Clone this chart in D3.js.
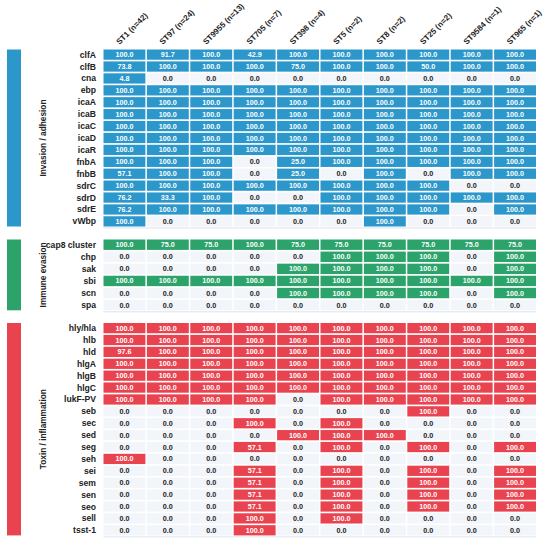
<!DOCTYPE html>
<html>
<head>
<meta charset="utf-8">
<script src="https://cdn.jsdelivr.net/npm/d3@7"></script>
<style>
  body { margin: 0; background: #fff; }
  text { font-family: "Liberation Sans", Arial, sans-serif; }
</style>
</head>
<body>
<svg id="chart" width="550" height="541"></svg>
<script>
// sequence types (columns)
var strains = ['ST1 (n=42)', 'ST97 (n=24)', 'ST9955 (n=13)', 'ST705 (n=7)', 'ST398 (n=4)',
               'ST5 (n=2)', 'ST8 (n=2)', 'ST25 (n=2)', 'ST9584 (n=1)', 'ST965 (n=1)'];

// invasion / adhesion
var invasionGenes = ['clfA', 'clfB', 'cna', 'ebp', 'icaA', 'icaB', 'icaC', 'icaD', 'icaR',
                     'fnbA', 'fnbB', 'sdrC', 'sdrD', 'sdrE', 'vWbp'];
var invasionValues = [
  [100, 91.7, 100, 42.9, 100, 100, 100, 100, 100, 100],
  [73.8, 100, 100, 100, 75, 100, 100, 50, 100, 100],
  [4.8, 0, 0, 0, 0, 0, 0, 0, 0, 0],
  [100, 100, 100, 100, 100, 100, 100, 100, 100, 100],
  [100, 100, 100, 100, 100, 100, 100, 100, 100, 100],
  [100, 100, 100, 100, 100, 100, 100, 100, 100, 100],
  [100, 100, 100, 100, 100, 100, 100, 100, 100, 100],
  [100, 100, 100, 100, 100, 100, 100, 100, 100, 100],
  [100, 100, 100, 100, 100, 100, 100, 100, 100, 100],
  [100, 100, 100, 0, 25, 100, 100, 100, 100, 100],
  [57.1, 100, 100, 0, 25, 0, 100, 0, 100, 100],
  [100, 100, 100, 100, 100, 100, 100, 100, 0, 0],
  [76.2, 33.3, 100, 0, 0, 100, 100, 100, 100, 100],
  [76.2, 100, 100, 100, 100, 100, 100, 100, 0, 100],
  [100, 0, 0, 0, 0, 0, 100, 0, 0, 0]
];

// immune evasion
var immuneGenes = ['cap8 cluster', 'chp', 'sak', 'sbi', 'scn', 'spa'];
var immuneValues = [
  [100, 75, 75, 100, 75, 75, 75, 75, 75, 75],
  [0, 0, 0, 0, 0, 100, 100, 100, 0, 100],
  [0, 0, 0, 0, 100, 100, 100, 100, 0, 100],
  [100, 100, 100, 100, 100, 100, 100, 100, 100, 100],
  [0, 0, 0, 0, 100, 100, 100, 100, 0, 100],
  [0, 0, 0, 0, 0, 0, 0, 0, 0, 0]
];

// toxin / inflammation
var toxinGenes = ['hly/hla', 'hlb', 'hld', 'hlgA', 'hlgB', 'hlgC', 'lukF-PV', 'seb', 'sec', 'sed',
                  'seg', 'seh', 'sei', 'sem', 'sen', 'seo', 'sell', 'tsst-1'];
var toxinValues = [
  [100, 100, 100, 100, 100, 100, 100, 100, 100, 100],
  [100, 100, 100, 100, 100, 100, 100, 100, 100, 100],
  [97.6, 100, 100, 100, 100, 100, 100, 100, 100, 100],
  [100, 100, 100, 100, 100, 100, 100, 100, 100, 100],
  [100, 100, 100, 100, 100, 100, 100, 100, 100, 100],
  [100, 100, 100, 100, 100, 100, 100, 100, 100, 100],
  [100, 100, 100, 100, 0, 100, 100, 100, 100, 100],
  [0, 0, 0, 0, 0, 0, 0, 100, 0, 0],
  [0, 0, 0, 100, 0, 100, 0, 0, 0, 0],
  [0, 0, 0, 0, 100, 100, 100, 0, 0, 0],
  [0, 0, 0, 57.1, 0, 100, 0, 100, 0, 100],
  [100, 0, 0, 0, 0, 0, 0, 0, 0, 0],
  [0, 0, 0, 57.1, 0, 100, 0, 100, 0, 100],
  [0, 0, 0, 57.1, 0, 100, 0, 100, 0, 100],
  [0, 0, 0, 57.1, 0, 100, 0, 100, 0, 100],
  [0, 0, 0, 57.1, 0, 100, 0, 100, 0, 100],
  [0, 0, 0, 100, 0, 100, 0, 0, 0, 0],
  [0, 0, 0, 100, 0, 0, 0, 0, 0, 0]
];

var groupNames = ['Invasion / adhesion', 'Immune evasion', 'Toxin / inflammation'];
var groupColors = ['#2b97cb', '#2ca36a', '#e8434f'];

var groups = [
  { name: groupNames[0], color: groupColors[0], genes: invasionGenes, values: invasionValues, top: 49.5 },
  { name: groupNames[1], color: groupColors[1], genes: immuneGenes, values: immuneValues, top: 239.5 },
  { name: groupNames[2], color: groupColors[2], genes: toxinGenes, values: toxinValues, top: 323 }
];

var rowH = 11.8;
var svg = d3.select('#chart');

var x = d3.scaleBand()
  .domain(strains)
  .range([103.5, 536])
  .paddingInner(0.035);

// column headers
svg.append('g')
  .selectAll('text')
  .data(strains)
  .join('text')
  .attr('transform', function(d) {
    return 'translate(' + (x(d) + x.bandwidth() / 2 - 5) + ',45) rotate(-45)';
  })
  .attr('font-size', '8px')
  .attr('font-weight', 'bold')
  .attr('fill', '#222')
  .text(function(d) { return d; });

groups.forEach(function(g) {
  var y = d3.scaleBand()
    .domain(g.genes)
    .range([g.top, g.top + rowH * g.genes.length])
    .paddingInner(0.14);

  var bottom = g.top + rowH * g.genes.length;
  var sec = svg.append('g');

  // side color bar
  sec.append('rect')
    .attr('x', 7)
    .attr('y', g.top)
    .attr('width', 14)
    .attr('height', bottom - g.top)
    .attr('fill', g.color);

  // group label
  sec.append('text')
    .attr('transform', 'translate(46,' + ((g.top + bottom) / 2) + ') rotate(-90)')
    .attr('text-anchor', 'middle')
    .attr('font-size', '8.3px')
    .attr('font-weight', 'bold')
    .attr('fill', '#222')
    .text(g.name);

  // gene labels
  sec.selectAll('.gene')
    .data(g.genes)
    .join('text')
    .attr('class', 'gene')
    .attr('x', 96)
    .attr('y', function(d) { return y(d) + y.bandwidth() / 2; })
    .attr('dy', '0.35em')
    .attr('text-anchor', 'end')
    .attr('font-size', '8.6px')
    .attr('font-weight', 'bold')
    .attr('fill', '#222')
    .text(function(d) { return d; });

  // bottom rule
  sec.append('line')
    .attr('x1', x.range()[0])
    .attr('x2', x.range()[1])
    .attr('y1', bottom + 1.5)
    .attr('y2', bottom + 1.5)
    .attr('stroke', '#dbe3ee')
    .attr('stroke-width', 1);

  var cells = [];
  g.values.forEach(function(row, i) {
    row.forEach(function(v, j) {
      cells.push({ gene: g.genes[i], strain: strains[j], value: v });
    });
  });

  var cell = sec.selectAll('.cell')
    .data(cells)
    .join('g')
    .attr('class', 'cell')
    .attr('transform', function(d) { return 'translate(' + x(d.strain) + ',' + y(d.gene) + ')'; });

  cell.append('rect')
    .attr('width', x.bandwidth())
    .attr('height', y.bandwidth())
    .attr('fill', function(d) { return d.value > 0 ? g.color : '#f2f5f9'; });

  cell.append('text')
    .attr('x', x.bandwidth() / 2)
    .attr('y', y.bandwidth() / 2)
    .attr('dy', '0.35em')
    .attr('text-anchor', 'middle')
    .attr('font-size', '7.2px')
    .attr('font-weight', 'bold')
    .attr('fill', function(d) { return d.value > 0 ? '#fff' : '#222'; })
    .text(function(d) { return d.value.toFixed(1); });
});
</script>
</body>
</html>
